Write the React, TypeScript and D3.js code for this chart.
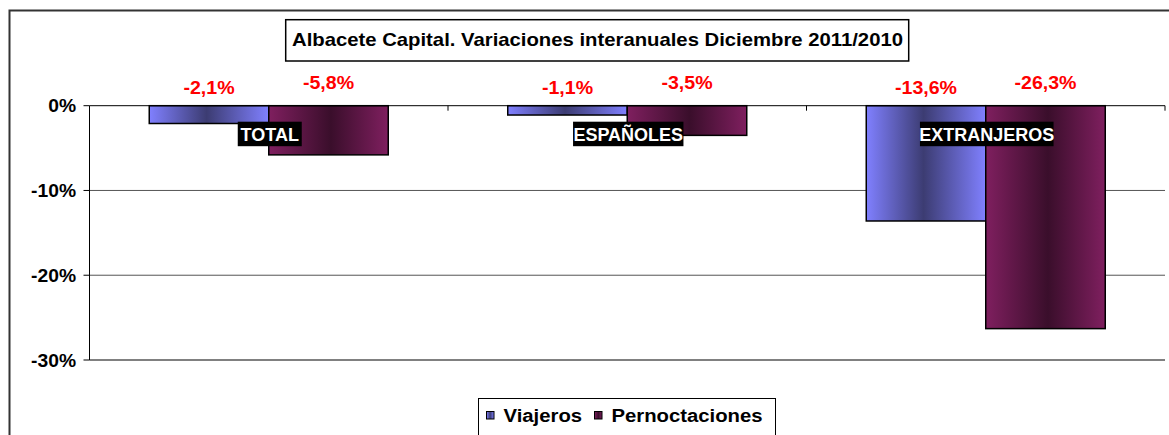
import React from 'react';
import * as d3 from 'd3';

const categories = ['TOTAL', 'ESPAÑOLES', 'EXTRANJEROS'];
const seriesNames = ['Viajeros', 'Pernoctaciones'];
const viajeros = [-2.1, -1.1, -13.6];
const pernoctaciones = [-5.8, -3.5, -26.3];
const yTicks = [0, -10, -20, -30];
const title = 'Albacete Capital. Variaciones interanuales Diciembre 2011/2010';

const W = 1169;
const H = 435;
const FONT = '"Liberation Sans", Arial, Helvetica, sans-serif';
const plot = { left: 89.5, right: 1165, top: 105.7, bottom: 360 };

const gradients = [
  { id: 'gViajeros', light: '#8080ff', dark: '#3c3c72', mid: 0.48 },
  { id: 'gPernoct', light: '#7f1f5f', dark: '#3a0e2b', mid: 0.52 },
];

// text stretched horizontally, like the original export
function SText({ x, y, size, sx = 1.12, anchor = 'middle', fill = '#000', children }: any) {
  return (
    <text
      transform={`translate(${x},${y}) scale(${sx},1)`}
      textAnchor={anchor}
      fontFamily={FONT}
      fontWeight="bold"
      fontSize={size}
      fill={fill}
    >
      {children}
    </text>
  );
}

export default function App() {
  const values = [viajeros, pernoctaciones];

  const x = d3.scaleBand<string>().domain(categories).range([plot.left, plot.right]);
  const bw = x.bandwidth();
  const xs = d3.scaleBand<string>().domain(seriesNames).range([bw / 6, (bw * 5) / 6]);
  const y = d3.scaleLinear().domain([-30, 0]).range([plot.bottom, plot.top]);

  const fmt = (v: number) => `${v.toFixed(1).replace('.', ',')}%`;
  const labelY = [94, 89];

  return (
    <div style={{ position: 'absolute', left: 0, top: 0 }}>
      <svg width={W} height={H} viewBox={`0 0 ${W} ${H}`} style={{ display: 'block', background: '#fff' }}>
        <defs>
          {gradients.map((g) => (
            <linearGradient key={g.id} id={g.id} x1="0" x2="1" y1="0" y2="0">
              <stop offset="0" stopColor={g.light} />
              <stop offset={g.mid} stopColor={g.dark} />
              <stop offset="1" stopColor={g.light} />
            </linearGradient>
          ))}
        </defs>

        {/* chart border */}
        <rect x={9.5} y={10.5} width={W} height={H} fill="none" stroke="#333" strokeWidth={2} />

        {/* gridlines */}
        {yTicks.filter((t) => t !== 0).map((t) => (
          <line
            key={`g${t}`}
            x1={plot.left}
            x2={plot.right}
            y1={y(t)}
            y2={y(t)}
            stroke={t === -30 ? '#808080' : '#555'}
            strokeWidth={t === -30 ? 2 : 1}
          />
        ))}

        {/* bars */}
        {categories.map((c, ci) =>
          seriesNames.map((s, si) => {
            const v = values[si][ci];
            return (
              <rect
                key={`${c}-${s}`}
                x={(x(c) ?? 0) + (xs(s) ?? 0)}
                y={y(0)}
                width={xs.bandwidth()}
                height={y(v) - y(0)}
                fill={`url(#${gradients[si].id})`}
                stroke="#000"
                strokeWidth={1.5}
              />
            );
          })
        )}

        {/* y axis */}
        <line x1={plot.left} x2={plot.left} y1={y(0)} y2={plot.bottom} stroke="#000" />
        {yTicks.map((t) => (
          <g key={`t${t}`}>
            <line x1={plot.left - 6} x2={plot.left} y1={y(t)} y2={y(t)} stroke="#000" />
            <SText x={76} y={y(t) + 6.5} size={18} sx={1.07} anchor="end">
              {`${t}%`}
            </SText>
          </g>
        ))}

        {/* zero line with category ticks */}
        <line x1={plot.left} x2={plot.right} y1={y(0)} y2={y(0)} stroke="#000" />
        {categories.map((c) => (
          <line
            key={`ct${c}`}
            x1={(x(c) ?? 0) + bw}
            x2={(x(c) ?? 0) + bw}
            y1={y(0)}
            y2={y(0) + 5}
            stroke="#000"
          />
        ))}

        {/* value labels */}
        {categories.map((c, ci) =>
          seriesNames.map((s, si) => (
            <SText
              key={`l${c}${s}`}
              x={(x(c) ?? 0) + (xs(s) ?? 0) + xs.bandwidth() / 2}
              y={labelY[si]}
              size={17.5}
              sx={1.12}
              fill="#ff0000"
            >
              {fmt(values[si][ci])}
            </SText>
          ))
        )}

        {/* category labels */}
        {categories.map((c) => {
          const cx = (x(c) ?? 0) + bw / 2;
          const tw = c.length * 11.6 + 6;
          return (
            <g key={`c${c}`}>
              <rect x={cx - tw / 2 + 1} y={121.7} width={tw} height={24.5} fill="#000" />
              <SText x={cx + 1} y={140.5} size={18} sx={1.0} fill="#fff">
                {c}
              </SText>
            </g>
          );
        })}

        {/* title */}
        <rect x={285.7} y={19.7} width={623} height={41.3} fill="#fff" stroke="#000" strokeWidth={1.5} />
        <text
          x={292}
          y={45.5}
          fontFamily={FONT}
          fontWeight="bold"
          fontSize={18.5}
          textLength={611}
          lengthAdjust="spacingAndGlyphs"
        >
          {title}
        </text>

        {/* legend */}
        <rect x={478.5} y={398.5} width={297} height={60} fill="#fff" stroke="#000" strokeWidth={1} />
        {seriesNames.map((s, si) => {
          const lx = [486.5, 594.5][si];
          return (
            <g key={`lg${s}`}>
              <rect x={lx} y={411.5} width={7.5} height={7.5} fill={`url(#${gradients[si].id})`} stroke="#000" strokeWidth={1} />
              <SText x={lx + 17} y={422} size={17.5} sx={1.16} anchor="start">
                {s}
              </SText>
            </g>
          );
        })}
      </svg>
    </div>
  );
}
